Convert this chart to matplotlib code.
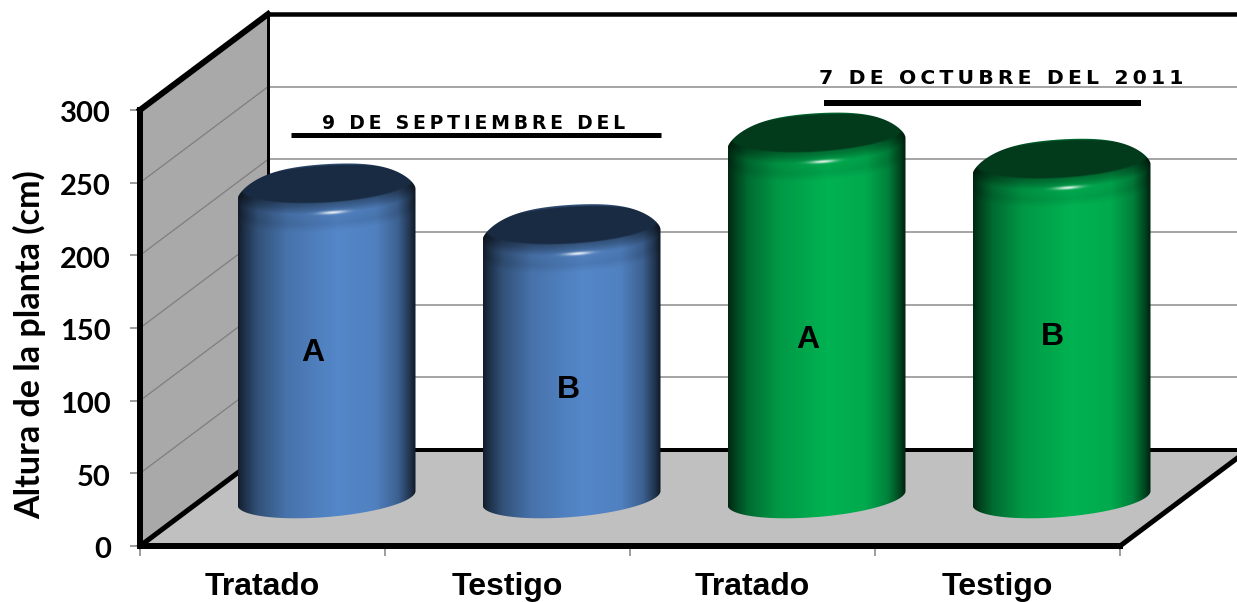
# Altura de planta: cilindros 3D falsos sobre un piso y pared en perspectiva
import numpy as np
import matplotlib
matplotlib.use('Agg')
import matplotlib.pyplot as plt
from matplotlib.patches import Polygon, PathPatch
from matplotlib.path import Path
from matplotlib.transforms import ScaledTranslation

categorias = ["Tratado", "Testigo", "Tratado", "Testigo"]
alturas = [216, 188, 251, 233]
letras = ["A", "B", "A", "B"]
letras_y = [133, 107, 142, 144]
y_ticks = [0, 50, 100, 150, 200, 250, 300]
colores = [(0.33, 0.53, 0.79), (0.33, 0.53, 0.79), (0.0, 0.70, 0.32), (0.0, 0.70, 0.32)]
tapas = [(0.10, 0.17, 0.26), (0.10, 0.17, 0.26), (0.01, 0.23, 0.11), (0.01, 0.23, 0.11)]
fechas = ["9 de septiembre del", "7 de Octubre del 2011"]

W, H = 1237, 602
X0, X1, Y_BASE, Y_TOP = 140, 1120, 546, 110
fig = plt.figure(figsize=(W / 100, H / 100), dpi=100)
ax = fig.add_axes([X0 / W, 1 - Y_BASE / H, (X1 - X0) / W, (Y_BASE - Y_TOP) / H])
ax.patch.set_visible(False)
for s in ax.spines.values():
    s.set_visible(False)

# pixeles por unidad de datos
PX = (X1 - X0) / 4
PY = (Y_BASE - Y_TOP) / 300
# profundidad de la caja
DX = 128 / PX
DY = 66


def px(v):
    return v * 0.72


# pared izquierda y piso
ax.add_patch(Polygon([(0, 0), (0, 300), (DX, 300 + DY), (DX, DY)], closed=True,
                     fc='#A9A9A9', ec='none', zorder=1, clip_on=False))
ax.add_patch(Polygon([(0, 0), (4, 0), (4 + DX, DY), (DX, DY)], closed=True,
                     fc='#C0C0C0', ec='none', zorder=1, clip_on=False))

# rejilla
for v in y_ticks[1:-1]:
    ax.plot([0, DX], [v, v + DY], color='#808080', lw=px(1.3), zorder=2, clip_on=False)
    ax.plot([DX, 4 + DX], [v + DY, v + DY], color='#A6A6A6', lw=px(2), zorder=2, clip_on=False)

# marco negro
marco = dict(color='black', zorder=3, clip_on=False, solid_capstyle='projecting')
ax.plot([DX, DX], [DY, 300 + DY], lw=px(3), **marco)
ax.plot([DX, 4 + DX], [DY, DY], lw=px(4), **marco)
ax.plot([DX, 4 + DX], [300 + DY, 300 + DY], lw=px(4.5), **marco)
ax.plot([0, DX], [300, 300 + DY], lw=px(6), **marco)
ax.plot([0, 0], [0, 300], lw=px(6), **marco)
ax.plot([0, DX], [0, DY], lw=px(5), **marco)
ax.plot([0, 4], [0, 0], lw=px(6), **marco)
ax.plot([4, 4 + DX], [0, DY], lw=px(5), **marco)


def cilindro(i, altura, color, tapa):
    # todo en pixeles respecto al centro de la base
    a, s, s_top, b, caida = 89.0, 7.0, 5.3, 19.0, 10.0
    h = altura * PY
    cx = i + 0.5 + DX / 2
    cy = DY / 2

    t = np.linspace(np.pi, 0, 120)
    xa = a * np.cos(t)
    ya = h + s_top * np.cos(t) + (b + 1) * np.sin(t) - caida * np.abs(np.cos(t)) ** 4
    t = np.linspace(np.pi, 2 * np.pi, 120)
    xb = a * np.cos(t)
    yb = s * np.cos(t) + b * np.sin(t)
    xs = np.concatenate([xa, xb[::-1]])
    ys = np.concatenate([ya, yb[::-1]])
    verts = np.column_stack([cx + xs / PX, cy + ys / PY])
    silueta = PathPatch(Path(np.vstack([verts, verts[:1]]), closed=True),
                        transform=ax.transData, fc='none', ec='none')
    ax.add_patch(silueta)

    u = np.arange(-a, a + 0.5, 0.5)
    v = np.arange(-30.0, h + 30.0, 0.5)
    U, V = np.meshgrid(u, v)
    n = U / a

    # sombra horizontal del cuerpo
    sombra = np.interp(n, [-1, -.93, -.78, -.45, .12, .55, .8, .93, 1],
                       [.22, .36, .6, .85, 1, .95, .72, .4, .18])
    # biselado bajo la tapa
    borde = h + s_top * n - (b - 1) * np.sqrt(np.clip(1 - n ** 2, 0, 1))
    d = borde - V
    bisel = np.interp(d, [0, 5, 12, 22, 30], [.6, .72, .95, .9, 1])
    rgb = np.dstack([np.array(color)[k] * sombra * bisel for k in range(3)])

    # brillo sobre el bisel
    brillo = np.exp(-((U - 6) / 13) ** 2) * np.exp(-((d - 11) / 1.5) ** 2)
    rgb = rgb + (1 - rgb) * brillo[..., None] * 0.9

    # tapa oscura con borde suave
    e = (U / (a - 5)) ** 2 + ((V - h - s_top * n) / (b - 1)) ** 2
    m = np.clip((1.12 - e) / 0.12, 0, 1)
    rgb = rgb * (1 - m[..., None]) + np.array(tapa) * m[..., None]

    im = ax.imshow(np.clip(rgb, 0, 1), origin='lower', aspect='auto', interpolation='bilinear',
                   extent=(cx - a / PX, cx + a / PX, cy + v[0] / PY, cy + v[-1] / PY), zorder=4)
    im.set_clip_box(fig.bbox)
    im.set_clip_path(silueta)


for i in range(len(alturas)):
    cilindro(i, alturas[i], colores[i], tapas[i])

ax.set_xlim(0, 4)
ax.set_ylim(0, 300)

# letras de significancia
letras_x = [0.707, 1.747, 2.727, 3.723]
for i in range(len(letras)):
    ax.text(letras_x[i], letras_y[i], letras[i], ha='center', va='center', zorder=5,
            fontsize=23, fontweight='bold', family='Liberation Sans', color='black')

# fechas con su raya
for texto, xt, yt, fs, xr0, xr1, yr, lw in [(fechas[0], 1.363, 291, 13.6, 0.616, 2.127, 282.5, 5),
                                            (fechas[1], 3.514, 322, 14.7, 2.792, 4.086, 304.5, 6)]:
    ax.plot([xr0, xr1], [yr, yr], color='black', lw=px(lw), solid_capstyle='butt', zorder=5, clip_on=False)
    ax.text(xt, yt, "\u2009".join(texto.upper()), ha='center', va='center', zorder=5, clip_on=False,
            fontsize=fs, fontweight='bold', family='DejaVu Sans', color='black')

# ejes
ax.set_yticks(y_ticks)
ax.set_yticklabels([str(v) for v in y_ticks], fontsize=21, fontweight='bold', family='Lato')
ax.set_xticks([0, 1, 2, 3, 4])
ax.set_xticklabels([])
ax.set_xticks([0.5, 1.5, 2.5, 3.5], minor=True)
ax.set_xticklabels(categorias, minor=True, fontsize=23, fontweight='bold', family='Liberation Sans')
ax.tick_params(axis='y', length=px(10), width=px(1.5), color='#808080', pad=px(19))
ax.tick_params(axis='x', which='major', length=px(10), width=px(1.5), color='#808080')
ax.tick_params(axis='x', which='minor', length=0, pad=px(26))
bajar = ScaledTranslation(0, -2 / 100, fig.dpi_scale_trans)
for lab in ax.get_yticklabels():
    lab.set_transform(lab.get_transform() + bajar)
ax.set_ylabel("Altura de la planta (cm)", fontsize=24.5, fontweight='bold', family='Lato')
ax.yaxis.set_label_coords(-0.096, 0.461)

fig.savefig('out.png', dpi=100)
